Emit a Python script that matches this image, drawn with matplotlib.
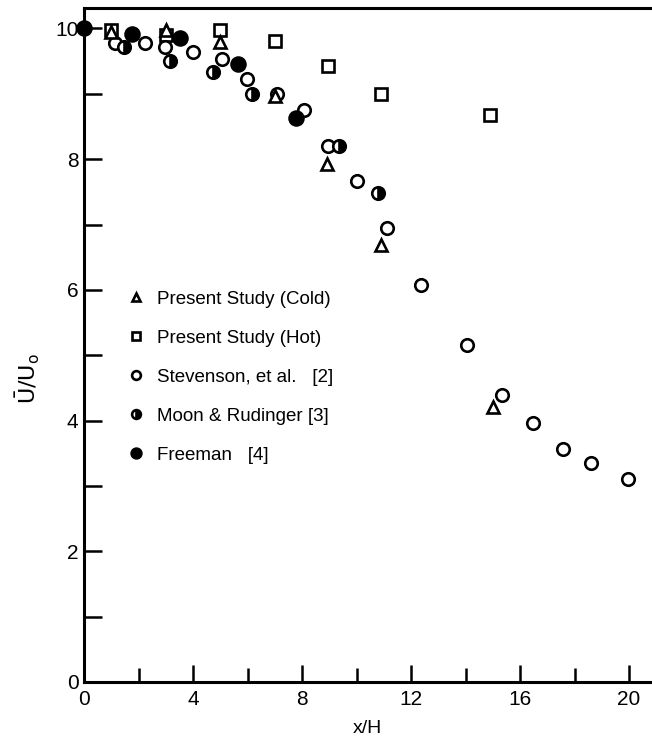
import matplotlib
matplotlib.use("Agg")
import matplotlib.pyplot as plt

plt.rcParams['font.family'] = ['Liberation Sans', 'DejaVu Sans']

# Present Study (Cold)
cold_x = [1.0, 3.0, 5.0, 7.0, 8.9, 10.9, 15.0]
cold_y = [0.995, 0.997, 0.979, 0.896, 0.793, 0.668, 0.420]
# Present Study (Hot)
hot_x = [1.0, 3.0, 5.0, 7.0, 8.95, 10.9, 14.9]
hot_y = [0.998, 0.990, 0.998, 0.981, 0.942, 0.900, 0.867]
# Stevenson, et al. [2]
stev_x = [1.15, 2.25, 2.97, 4.0, 5.05, 5.97, 7.07, 8.07, 8.94, 10.03, 11.13,
          12.36, 14.04, 15.33, 16.49, 17.59, 18.59, 19.97]
stev_y = [0.977, 0.977, 0.971, 0.964, 0.953, 0.923, 0.900, 0.875, 0.820, 0.767,
          0.695, 0.607, 0.515, 0.439, 0.396, 0.356, 0.335, 0.310]
# Moon & Rudinger [3]
moon_x = [1.45, 3.16, 4.72, 6.15, 9.37, 10.8]
moon_y = [0.972, 0.950, 0.933, 0.900, 0.820, 0.748]
# Freeman [4]
free_x = [0.0, 1.75, 3.52, 5.65, 7.78]
free_y = [1.0, 0.992, 0.985, 0.946, 0.863]

y_ticks = [0, 0.2, 0.4, 0.6, 0.8, 1.0]
y_ticklabels = ["0", "2", "4", "6", "8", "10"]
x_ticks = [0, 4, 8, 12, 16, 20]
x_ticklabels = ["0", "4", "8", "12", "16", "20"]

fig = plt.figure(figsize=(6.52, 7.45), dpi=100)
ax = fig.add_axes([0.129, 0.0846, 0.868, 0.9044])

ms = 9
mew = 1.9
ax.plot(cold_x, cold_y, linestyle='none', marker='^', ms=ms, mfc='white', mec='black', mew=mew,
        label='Present Study (Cold)', clip_on=False, zorder=4)
ax.plot(hot_x, hot_y, linestyle='none', marker='s', ms=ms - 1, mfc='white', mec='black', mew=mew,
        label='Present Study (Hot)', clip_on=False, zorder=3)
ax.plot(stev_x, stev_y, linestyle='none', marker='o', ms=ms, mfc='white', mec='black', mew=mew,
        label='Stevenson, et al.   [2]', clip_on=False, zorder=3)
ax.plot(moon_x, moon_y, linestyle='none', marker='o', ms=ms, fillstyle='right', mfc='black',
        markerfacecoloralt='white', mec='black', mew=mew,
        label='Moon & Rudinger [3]', clip_on=False, zorder=3)
ax.plot(free_x, free_y, linestyle='none', marker='o', ms=ms + 1, mfc='black', mec='black', mew=mew,
        label='Freeman   [4]', clip_on=False, zorder=3)

ax.set_xlim(0, 20.77)
ax.set_ylim(0, 1.031)

ax.set_xticks(x_ticks)
ax.set_xticklabels(x_ticklabels)
ax.set_xticks([2, 6, 10, 14, 18], minor=True)
ax.set_yticks(y_ticks)
ax.set_yticklabels(y_ticklabels)
ax.set_yticks([0.1, 0.3, 0.5, 0.7, 0.9], minor=True)

ax.tick_params(axis='both', which='both', direction='in', width=1.8, labelsize=15)
ax.tick_params(axis='y', which='major', length=13, pad=4)
ax.tick_params(axis='y', which='minor', length=13)
ax.tick_params(axis='x', which='major', length=12, pad=6)
ax.tick_params(axis='x', which='minor', length=10)

for s in ['left', 'bottom', 'top']:
    ax.spines[s].set_linewidth(2.2)
ax.spines['right'].set_visible(False)

ax.set_xlabel('x/H', fontsize=14, labelpad=8)
ax.set_ylabel(r'$\bar{\mathrm{U}}/\mathrm{U_o}$', fontsize=16)
ax.yaxis.set_label_coords(-0.075, 0.45)

leg = ax.legend(loc='upper left', bbox_to_anchor=(0.062, 0.592), frameon=False,
                fontsize=13.5, labelspacing=1.17, handletextpad=0.6, handlelength=1.0,
                markerscale=0.7, borderaxespad=0)

fig.savefig('out.png', dpi=100)
